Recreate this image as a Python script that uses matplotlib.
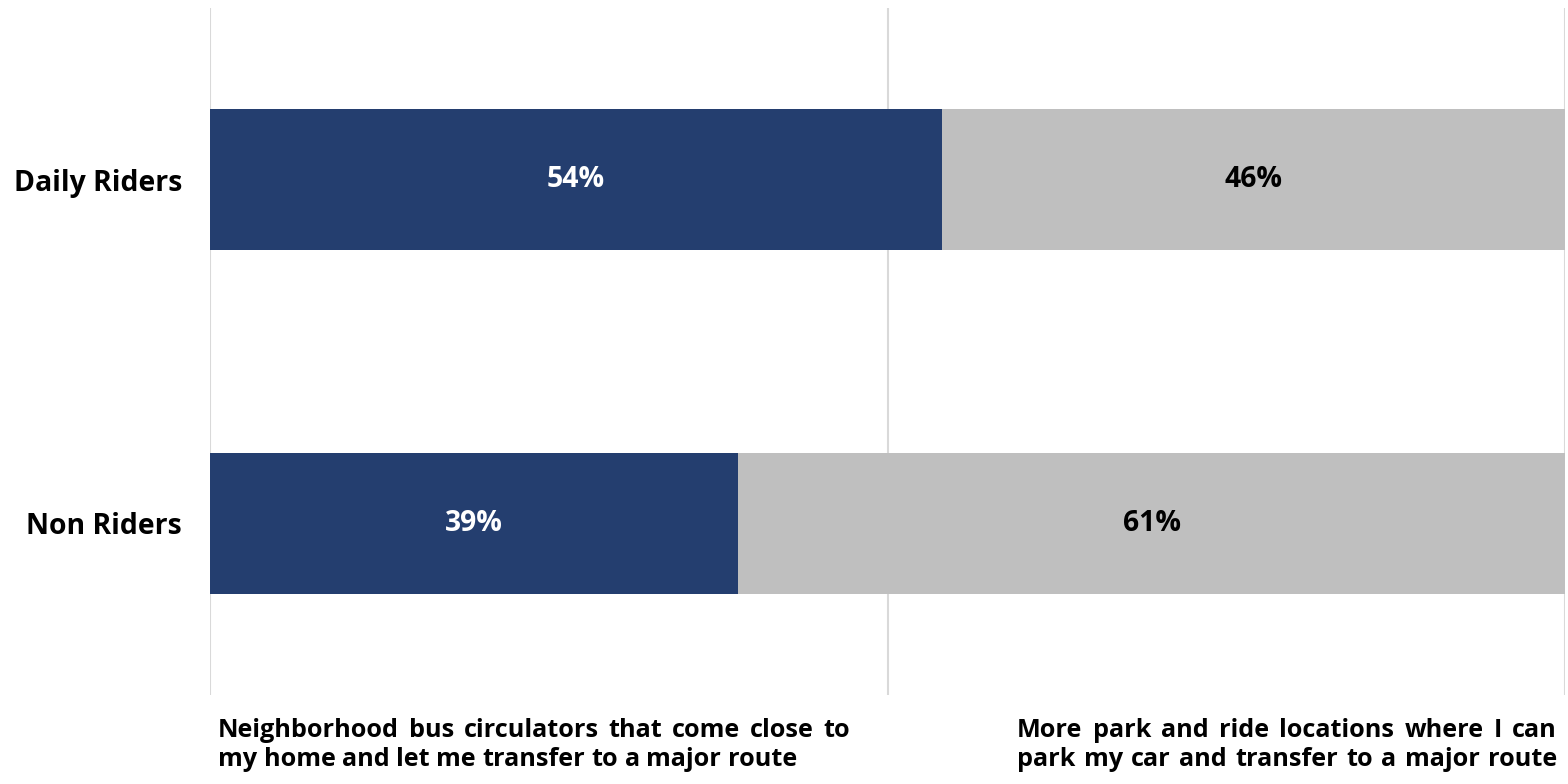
import matplotlib
matplotlib.use("Agg")
import matplotlib.pyplot as plt

# Survey data: share of each group preferring each option (percent)
groups = ["Non Riders", "Daily Riders"]
circulator_share = [39, 54]
park_ride_share = [61, 46]
option_lines = [
    ["Neighborhood bus circulators that come close to",
     "my home and let me transfer to a major route"],
    ["More park and ride locations where I can",
     "park my car and transfer to a major route"],
]

NAVY = "#243E6F"
GRAY = "#BFBFBF"
GRID = "#D9D9D9"
FONT = "Open Sans"

W, H = 1568, 784
fig = plt.figure(figsize=(W / 100, H / 100), dpi=100)
renderer = fig.canvas.get_renderer()


def text_width(s, size):
    t = fig.text(0, 0, s, fontsize=size, fontweight="bold", family=FONT)
    w = t.get_window_extent(renderer).width
    t.remove()
    return w


# font size so the group labels are about 168 px wide
FS = 20 * 168 / text_width("Daily Riders", 20)

ax = fig.add_axes([210 / W, 1 - 695 / H, (1565 - 210) / W, (695 - 8) / H])

ypos = list(range(len(groups)))
left_vals = [v / 100 for v in circulator_share]
right_vals = [v / 100 for v in park_ride_share]

for x in (0, 0.5, 1.0):
    ax.axvline(x, color=GRID, lw=1.5, zorder=0)

ax.barh(ypos, left_vals, height=0.41, color=NAVY, zorder=2)
ax.barh(ypos, right_vals, left=left_vals, height=0.41, color=GRAY, zorder=2)

for y, a, b, pa, pb in zip(ypos, left_vals, right_vals, circulator_share, park_ride_share):
    ax.text(a / 2, y, f"{pa}%", ha="center", va="center", color="white",
            fontsize=FS, fontweight="bold", family=FONT, zorder=3)
    ax.text(a + b / 2, y, f"{pb}%", ha="center", va="center", color="black",
            fontsize=FS, fontweight="bold", family=FONT, zorder=3)

ax.set_xlim(0, 1)
ax.set_ylim(-0.5, 1.5)
ax.set_xticks([])
ax.set_yticks(ypos)
ax.set_yticklabels(groups, fontsize=FS, fontweight="bold", family=FONT)
ax.tick_params(axis="y", length=0, pad=20)
for s in ax.spines.values():
    s.set_visible(False)

# caption blocks under each half: (text, left px, right px, baseline px, justify)
caption_layout = [
    (option_lines[0][0], 218, 850, 737, True),
    (option_lines[0][1], 218, 850, 766, False),
    (option_lines[1][0], 1017, 1557, 737, True),
    (option_lines[1][1], 1017, 1557, 766, True),
]

# shrink captions just enough that every justified line fits
ratios = [(x1 - x0) / (text_width(txt, FS) + 2 * (txt.count(" ")))
          for txt, x0, x1, _, j in caption_layout if j]
CFS = FS * min(1.0, min(ratios))


def place_line(text, x0, x1, baseline, justify):
    words = text.split(" ")
    objs = []
    widths = []
    for w in words:
        t = fig.text(0, 0, w, fontsize=CFS, fontweight="bold", family=FONT,
                     va="baseline", ha="left")
        widths.append(t.get_window_extent(renderer).width)
        objs.append(t)
    sp = text_width("a b", CFS) - text_width("ab", CFS)
    if justify and len(words) > 1:
        gap = (x1 - x0 - sum(widths)) / (len(words) - 1)
    else:
        gap = sp
    x = x0
    for t, wd in zip(objs, widths):
        t.set_position((x / W, 1 - baseline / H))
        x += wd + gap


for txt, x0, x1, base, j in caption_layout:
    place_line(txt, x0, x1, base, j)

fig.savefig("out.png", dpi=100, facecolor="white")
